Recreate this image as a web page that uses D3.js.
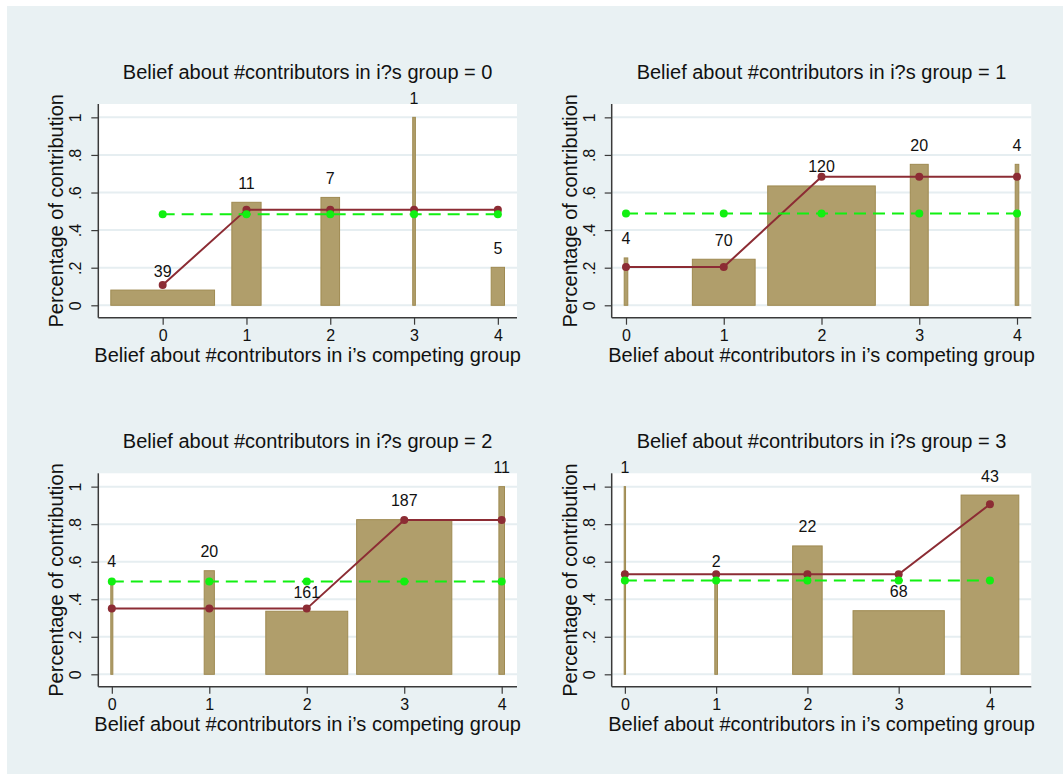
<!DOCTYPE html>
<html>
<head>
<meta charset="utf-8">
<script src="https://cdn.jsdelivr.net/npm/d3@7"></script>
<style>
  html, body { margin: 0; padding: 0; background: #ffffff; }
  svg { display: block; font-family: "Liberation Sans", Arial, Helvetica, sans-serif; }
</style>
</head>
<body>
<svg id="chart" width="1063" height="774"></svg>
<script>
// Belief about how many members of one's own group contribute (one panel each)
const ownGroupBeliefs = [0, 1, 2, 3];
// Belief about how many contribute in the competing group (x axis)
const competingBeliefs = [0, 1, 2, 3, 4];
const xTickLabels = ["0", "1", "2", "3", "4"];
const yTickValues = [0, 0.2, 0.4, 0.6, 0.8, 1];
const yTickLabels = ["0", ".2", ".4", ".6", ".8", "1"];

// Number of observations in each cell (bar width is proportional to it)
const cellCounts = [
  [39, 11, 7, 1, 5],
  [4, 70, 120, 20, 4],
  [4, 20, 161, 187, 11],
  [1, 2, 22, 68, 43]
];
// Share contributing in each cell (bar height)
const cellShares = [
  [0.081, 0.548, 0.574, 1.0, 0.202],
  [0.252, 0.245, 0.635, 0.75, 0.75],
  [0.50, 0.552, 0.336, 0.824, 1.0],
  [1.0, 0.50, 0.684, 0.339, 0.955]
];
// Fitted contribution rate (connected line)
const fittedShares = [
  [0.108, 0.509, 0.509, 0.509, 0.509],
  [0.204, 0.204, 0.684, 0.684, 0.684],
  [0.35, 0.35, 0.35, 0.822, 0.822],
  [0.533, 0.533, 0.533, 0.533, 0.906]
];
// Panel-wide average contribution (dashed line)
const panelMeans = [0.484, 0.489, 0.495, 0.50];

const titlePrefix = "Belief about #contributors in i?s group = ";
const xTitle = "Belief about #contributors in i\u2019s competing group";
const yTitle = "Percentage of contribution";

// Layout
const W = 1063, H = 774;
const colLeft = [98.3, 611.7], colRight = [517, 1031.3];
const rowTop = [104, 473.3], rowBottom = [317.7, 686.7];
const edgePad = 12.5;

const colors = {
  bg: "#e9f1f3",
  plot: "#ffffff",
  grid: "#e6eef1",
  axis: "#3a3a3a",
  barFill: "#b09e6b",
  barStroke: "#9f8a51",
  fitted: "#8c2c34",
  mean: "#11f011",
  text: "#111111"
};

const svg = d3.select("#chart");
svg.append("rect").attr("x", 7).attr("y", 6).attr("width", W - 7).attr("height", H - 6)
  .attr("fill", colors.bg);

ownGroupBeliefs.forEach((g, i) => {
  const col = i % 2, row = Math.floor(i / 2);
  const L = colLeft[col], R = colRight[col], T = rowTop[row], B = rowBottom[row];
  const counts = cellCounts[i];
  const total = d3.sum(counts);
  const bars = competingBeliefs.map((b, j) => ({
    x: b, n: counts[j], share: cellShares[i][j], halfW: counts[j] / total
  }));
  const lo = d3.min(bars, d => d.x - d.halfW);
  const hi = d3.max(bars, d => d.x + d.halfW);

  const x = d3.scaleLinear().domain([lo, hi]).range([L + edgePad, R - edgePad]);
  const y = d3.scaleLinear().domain([-0.066, 1.071]).range([B, T]);

  const p = svg.append("g");
  p.append("rect").attr("x", L).attr("y", T).attr("width", R - L).attr("height", B - T)
    .attr("fill", colors.plot);

  // horizontal gridlines
  p.selectAll(".grid").data(yTickValues).join("line")
    .attr("x1", L).attr("x2", R)
    .attr("y1", d => y(d)).attr("y2", d => y(d))
    .attr("stroke", colors.grid).attr("stroke-width", 2);

  // bars
  p.selectAll(".bar").data(bars).join("rect")
    .attr("x", d => x(d.x - d.halfW))
    .attr("width", d => Math.max(0.5, x(d.x + d.halfW) - x(d.x - d.halfW)))
    .attr("y", d => y(d.share))
    .attr("height", d => y(0) - y(d.share))
    .attr("fill", colors.barFill)
    .attr("stroke", colors.barStroke).attr("stroke-width", 1);

  // fitted line
  const fit = competingBeliefs.map((b, j) => ({ x: b, v: fittedShares[i][j] }));
  p.append("path").datum(fit)
    .attr("d", d3.line().x(d => x(d.x)).y(d => y(d.v)))
    .attr("fill", "none").attr("stroke", colors.fitted).attr("stroke-width", 2);
  p.selectAll(".fitpt").data(fit).join("circle")
    .attr("cx", d => x(d.x)).attr("cy", d => y(d.v)).attr("r", 4)
    .attr("fill", colors.fitted);

  // panel mean
  const meanPts = competingBeliefs.map(b => ({ x: b, v: panelMeans[i] }));
  p.append("path").datum(meanPts)
    .attr("d", d3.line().x(d => x(d.x)).y(d => y(d.v)))
    .attr("fill", "none").attr("stroke", colors.mean).attr("stroke-width", 2)
    .attr("stroke-dasharray", "12,7");
  p.selectAll(".meanpt").data(meanPts).join("circle")
    .attr("cx", d => x(d.x)).attr("cy", d => y(d.v)).attr("r", 4)
    .attr("fill", colors.mean);

  // cell counts above bars
  p.selectAll(".cnt").data(bars).join("text")
    .attr("x", d => x(d.x)).attr("y", d => y(d.share) - 19)
    .attr("text-anchor", "middle").attr("dominant-baseline", "central")
    .attr("font-size", 16).attr("fill", colors.text)
    .text(d => d.n);

  // axes
  const yAxis = d3.axisLeft(y).tickValues(yTickValues)
    .tickFormat((d, k) => yTickLabels[k]).tickSize(7).tickPadding(6);
  const ga = p.append("g").attr("transform", `translate(${L},0)`).call(yAxis);
  ga.select(".domain").attr("d", `M0,${T}V${B}`).attr("stroke", colors.axis).attr("stroke-width", 1.5);
  ga.selectAll(".tick line").attr("stroke", colors.axis).attr("stroke-width", 1.2);
  ga.selectAll(".tick text")
    .attr("font-size", 16).attr("fill", colors.text)
    .attr("x", -22.5).attr("dy", null)
    .attr("text-anchor", "middle").attr("dominant-baseline", "central")
    .attr("transform", "rotate(-90,-22.5,0)");

  const xAxis = d3.axisBottom(x).tickValues(competingBeliefs)
    .tickFormat((d, k) => xTickLabels[k]).tickSize(7).tickPadding(4);
  const gb = p.append("g").attr("transform", `translate(0,${B})`).call(xAxis);
  gb.select(".domain").attr("d", `M${L},0H${R}`).attr("stroke", colors.axis).attr("stroke-width", 1.5);
  gb.selectAll(".tick line").attr("stroke", colors.axis).attr("stroke-width", 1.2);
  gb.selectAll(".tick text")
    .attr("font-size", 16).attr("fill", colors.text)
    .attr("y", 17.6).attr("dy", null).attr("dominant-baseline", "central");

  ga.attr("font-family", null);
  gb.attr("font-family", null);

  // titles
  const cx = (L + R) / 2;
  p.append("text").attr("x", cx).attr("y", T - 32.4)
    .attr("text-anchor", "middle").attr("dominant-baseline", "central")
    .attr("font-size", 20).attr("fill", colors.text)
    .text(titlePrefix + g);
  p.append("text").attr("x", cx).attr("y", B + 37.6)
    .attr("text-anchor", "middle").attr("dominant-baseline", "central")
    .attr("font-size", 20).attr("fill", colors.text)
    .text(xTitle);
  const ty = (T + B) / 2, tx = L - 42;
  p.append("text").attr("x", tx).attr("y", ty)
    .attr("text-anchor", "middle").attr("dominant-baseline", "central")
    .attr("transform", `rotate(-90,${tx},${ty})`)
    .attr("font-size", 20).attr("fill", colors.text)
    .text(yTitle);
});
</script>
</body>
</html>
